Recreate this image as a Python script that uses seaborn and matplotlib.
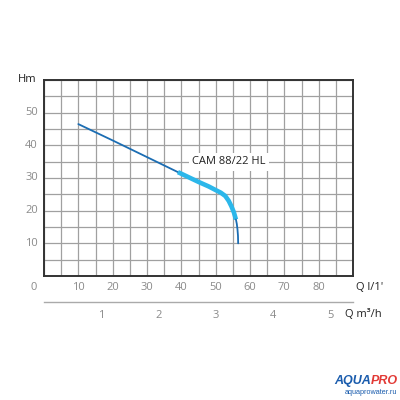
import matplotlib
matplotlib.use("Agg")
import matplotlib.pyplot as plt
import seaborn as sns
import numpy as np

sns.set_style("white")
plt.rcParams['font.family'] = ['Open Sans', 'DejaVu Sans']

# Curve data (Q in l/min, H in m)
q_dark1 = [10, 20, 30, 39]
h_dark1 = [46.5, 41.5, 36.4, 31.8]
q_cyan = [39, 42, 45, 48, 50, 51.5, 52.8, 53.8, 54.6, 55.3, 55.9]
h_cyan = [31.8, 30.3, 28.8, 27.4, 26.3, 25.5, 24.5, 23.0, 21.3, 19.5, 17.3]
q_dark2 = [55.9, 56.15, 56.35, 56.5, 56.55]
h_dark2 = [17.3, 16.0, 14.3, 12.3, 10.0]

x_ticks = [10, 20, 30, 40, 50, 60, 70, 80]
y_ticks = [10, 20, 30, 40, 50]
m3_ticks = [1, 2, 3, 4, 5]
curve_label = "CAM 88/22 HL"

fig = plt.figure(figsize=(4, 4), dpi=100)
ax = fig.add_axes([0.11, 0.31, 0.7725, 0.49])
ax.set_xlim(0, 90)
ax.set_ylim(0, 60)
ax.set_xticks(np.arange(0, 91, 5))
ax.set_yticks(np.arange(0, 61, 5))
ax.grid(True, color='#a0a0a0', lw=0.9)
ax.set_axisbelow(True)
for s in ax.spines.values():
    s.set_color('#333333')
    s.set_linewidth(1.4)
ax.tick_params(length=0, labelbottom=False, labelleft=False)

gray = '#8a8a8a'
for v in y_ticks:
    ax.text(-0.02, v, str(v), transform=ax.get_yaxis_transform(), ha='right', va='center',
            fontsize=8, color=gray)
for v in x_ticks:
    ax.text(v, -0.06, str(v), transform=ax.get_xaxis_transform(), ha='center', va='center',
            fontsize=8, color=gray)
ax.text(-0.032, -0.06, "0", transform=ax.transAxes, ha='center', va='center', fontsize=8, color=gray)
ax.text(1.01, -0.06, "Q l/1'", transform=ax.transAxes, ha='left', va='center', fontsize=8, color='#222222')
ax.text(-0.055, 1.0, "Hm", transform=ax.transAxes, ha='center', va='center', fontsize=8, color='#222222')

sns.lineplot(x=q_dark1, y=h_dark1, ax=ax, color='#1b6db3', lw=1.3, sort=False)
sns.lineplot(x=q_cyan, y=h_cyan, ax=ax, color='#2cb7ea', lw=3.3, sort=False,
             solid_capstyle='butt', solid_joinstyle='round')
sns.lineplot(x=q_dark2, y=h_dark2, ax=ax, color='#1b6db3', lw=1.3, sort=False)

ax.text(53.8, 35, curve_label, ha='center', va='center', fontsize=8, color='#222222',
        bbox=dict(facecolor='white', edgecolor='none', pad=2.5))

# secondary axis m3/h
ax2 = fig.add_axes([0.11, 0.245, 0.7725, 0.001])
ax2.set_xlim(0, 90 * 0.06)
ax2.set_xticks(m3_ticks)
ax2.set_xticklabels([str(v) for v in m3_ticks], fontsize=8, color=gray)
ax2.set_yticks([])
for k in ['top', 'left', 'right']:
    ax2.spines[k].set_visible(False)
ax2.spines['bottom'].set_color('#aaaaaa')
ax2.spines['bottom'].set_linewidth(1.0)
ax2.tick_params(axis='x', direction='inout', length=5, color='#aaaaaa', pad=3)
ax2.patch.set_alpha(0)
fig.text(0.8625, 0.213, "Q m\u00b3/h", ha='left', va='center', fontsize=8, color='#222222')

# logo
logo_font = ['Liberation Sans', 'DejaVu Sans']
t_pro = fig.text(0.995, 0.048, "PRO", fontsize=9, fontweight='bold', style='italic', color='#e23a36',
                 ha='right', va='center', family=logo_font)
fig.canvas.draw()
bb = t_pro.get_window_extent().transformed(fig.transFigure.inverted())
fig.text(bb.x0, 0.048, "AQUA", fontsize=9, fontweight='bold', style='italic', color='#1a5cad',
         ha='right', va='center', family=logo_font)
fig.text(0.993, 0.018, "aquaprowater.ru", fontsize=5.2, color='#1a5cad', ha='right', va='center',
         family=logo_font)

fig.savefig("out.png", dpi=100)
